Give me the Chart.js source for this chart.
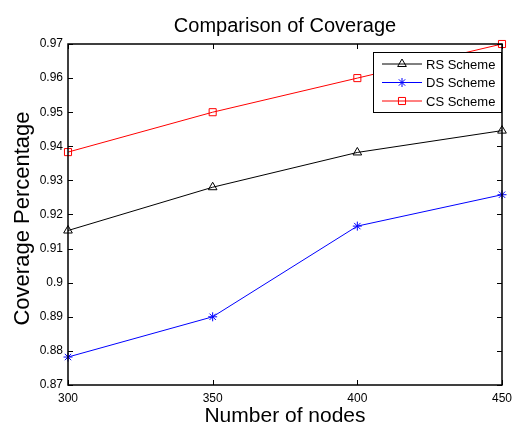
<!DOCTYPE html>
<html>
<head>
<meta charset="utf-8">
<script src="https://cdn.jsdelivr.net/npm/chart.js@4"></script>
<style>
  body { margin: 0; background: #fff; }
  #wrap { width: 514px; height: 426px; }
</style>
</head>
<body>
<div id="wrap"><canvas id="lineChart" width="514" height="426"></canvas></div>
<script>
// data
var nodes = [300, 350, 400, 450];
var rsValues = [0.9153, 0.9280, 0.9382, 0.9446];
var dsValues = [0.8782, 0.8900, 0.9166, 0.9258];
var csValues = [0.9383, 0.9500, 0.9600, 0.9700];
var seriesNames = ['RS Scheme', 'DS Scheme', 'CS Scheme'];
var xTicks = [300, 350, 400, 450];
var yTicks = [0.87, 0.88, 0.89, 0.90, 0.91, 0.92, 0.93, 0.94, 0.95, 0.96, 0.97];
var chartTitle = 'Comparison of Coverage';
var xTitle = 'Number of nodes';
var yTitle = 'Coverage Percentage';

var font = 'Arial, "Liberation Sans", Helvetica, sans-serif';

function toPoints(vals) {
  return nodes.map(function(n, i) { return { x: n, y: vals[i] }; });
}

// box around plot, inward ticks, titles, matlab style legend
var matlabAxes = {
  id: 'matlabAxes',
  afterDraw: function(chart) {
    var ctx = chart.ctx;
    var a = chart.chartArea;
    var xs = chart.scales.x, ys = chart.scales.y;
    var tl = 5;
    ctx.save();
    ctx.strokeStyle = '#000';
    ctx.lineWidth = 1;
    ctx.beginPath();
    xTicks.forEach(function(t) {
      var px = Math.round(xs.getPixelForValue(t)) + 0.5;
      ctx.moveTo(px, a.bottom); ctx.lineTo(px, a.bottom - tl);
      ctx.moveTo(px, a.top); ctx.lineTo(px, a.top + tl);
    });
    yTicks.forEach(function(t) {
      var py = Math.round(ys.getPixelForValue(t)) + 0.5;
      ctx.moveTo(a.left, py); ctx.lineTo(a.left + tl, py);
      ctx.moveTo(a.right, py); ctx.lineTo(a.right - tl, py);
    });
    ctx.stroke();
    ctx.lineWidth = 1.5;
    ctx.strokeRect(a.left, a.top, a.right - a.left, a.bottom - a.top);

    // titles
    var cx = (a.left + a.right) / 2;
    ctx.fillStyle = '#000';
    ctx.textAlign = 'center';
    ctx.textBaseline = 'alphabetic';
    ctx.font = '20px ' + font;
    ctx.fillText(chartTitle, cx, 32);
    ctx.font = '21px ' + font;
    ctx.fillText(xTitle, cx, 422);
    ctx.save();
    ctx.translate(29, (a.top + a.bottom) / 2 + 4);
    ctx.rotate(-Math.PI / 2);
    ctx.font = '22px ' + font;
    ctx.fillText(yTitle, 0, 0);
    ctx.restore();

    // legend
    var lx = 373, ly = 52, lw = 128, lh = 60;
    ctx.fillStyle = '#fff';
    ctx.fillRect(lx, ly, lw, lh);
    ctx.lineWidth = 1;
    ctx.strokeStyle = '#000';
    ctx.strokeRect(lx + 0.5, ly + 0.5, lw, lh);
    ctx.font = '13px ' + font;
    ctx.textAlign = 'left';
    ctx.textBaseline = 'middle';
    chart.data.datasets.forEach(function(ds, i) {
      var y = ly + 12 + i * 18.5;
      ctx.strokeStyle = ds.borderColor;
      ctx.lineWidth = 1;
      ctx.beginPath();
      ctx.moveTo(lx + 9, y); ctx.lineTo(lx + 49, y);
      ctx.stroke();
      ctx.fillStyle = 'rgba(0,0,0,0)';
      Chart.helpers.drawPoint(ctx, {
        pointStyle: ds.pointStyle, radius: ds.pointRadius, rotation: 0, borderWidth: 1
      }, lx + 29, y);
      ctx.fillStyle = '#000';
      ctx.fillText(ds.label, lx + 53, y + 1);
    });
    ctx.restore();
  }
};

var ctx = document.getElementById('lineChart');
var myChart = new Chart(ctx, {
  type: 'line',
  data: {
    datasets: [
      { label: seriesNames[0], data: toPoints(rsValues), borderColor: '#000000', pointStyle: 'triangle', pointRadius: 5 },
      { label: seriesNames[1], data: toPoints(dsValues), borderColor: '#0000ff', pointStyle: 'star', pointRadius: 4.5 },
      { label: seriesNames[2], data: toPoints(csValues), borderColor: '#ff0000', pointStyle: 'rect', pointRadius: 5 }
    ].map(function(d) {
      d.backgroundColor = 'rgba(0,0,0,0)';
      d.pointBackgroundColor = 'rgba(0,0,0,0)';
      d.pointBorderColor = d.borderColor;
      d.pointBorderWidth = 1;
      d.borderWidth = 1;
      d.tension = 0;
      d.clip = false;
      return d;
    })
  },
  options: {
    responsive: false,
    animation: false,
    layout: { padding: { left: 0, right: 12, top: 44, bottom: 0 } },
    plugins: {
      legend: { display: false },
      tooltip: { enabled: false },
      title: { display: false }
    },
    scales: {
      x: {
        type: 'linear',
        min: 300, max: 450,
        afterBuildTicks: function(s) { s.ticks = xTicks.map(function(v) { return { value: v }; }); },
        afterFit: function(s) { s.height = 41; s.paddingLeft = 0; s.paddingRight = 0; },
        grid: { display: false, drawTicks: false },
        border: { display: false },
        ticks: { color: '#000', font: { family: font, size: 12 }, padding: 6, maxRotation: 0 }
      },
      y: {
        min: 0.87, max: 0.97,
        afterBuildTicks: function(s) { s.ticks = yTicks.map(function(v) { return { value: v }; }); },
        afterFit: function(s) { s.width = 68; s.paddingTop = 0; s.paddingBottom = 0; },
        grid: { display: false, drawTicks: false },
        border: { display: false },
        ticks: {
          color: '#000', font: { family: font, size: 12 }, padding: 5,
          callback: function(v) { return String(Number(v.toFixed(2))); }
        }
      }
    }
  },
  plugins: [matlabAxes]
});
</script>
</body>
</html>
